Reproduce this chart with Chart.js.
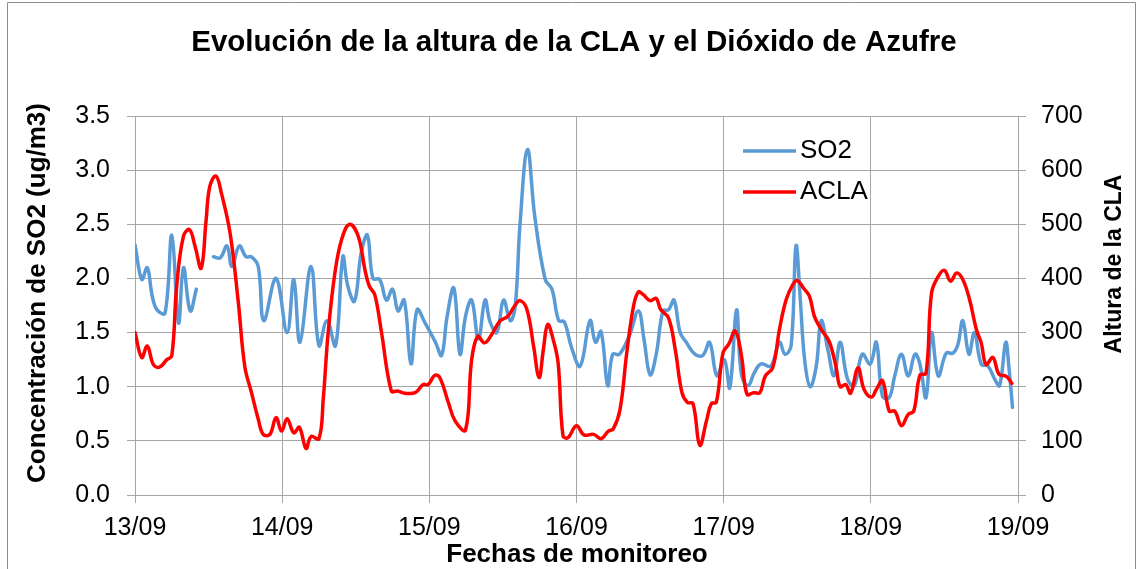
<!DOCTYPE html>
<html>
<head>
<meta charset="utf-8">
<script src="https://cdn.jsdelivr.net/npm/chart.js@4/dist/chart.umd.min.js"></script>
<style>
  html,body{margin:0;padding:0;background:#fff;}
  canvas{display:block;}
</style>
</head>
<body>
<canvas id="c" width="1137" height="569"></canvas>
<script>
// hours since 13/09 00:00
const dayLabels = ["13/09","14/09","15/09","16/09","17/09","18/09","19/09"];

const so2Hours = [0,1.1,2,2.8,3.6,4.9,6,7.1,7.9,9,10,11,12.8,13.9,15,15.8,17,18.1,19,20.1,21,23,24.8,25.9,26.9,28.7,30,31.3,32.7,33.9,34.7,35.8,36.9,37.9,38.8,39.9,41,42,42.9,43.9,45,46,47.3,49,50,50.9,52,53,53.9,54.9,56,57.1,57.9,59,60.1,61.2,62,62.8,64,65.2,66.9,68,69.1,70,71.2,72.6,74.2,75.1,76,77.1,77.9,79,80.6,82.1,83,84,85,86.1,87,87.9,88.9,89.9,91.3,92.6,93.7,94.9,96.1,97,98.1,98.9,100,101,102.1,103.7,105.1,106,107,107.8,108.5,109.2,110.1,111.1,111.9,113,114,115,116.2,117.3,118.6,119.9,120.9,121.9,123,123.9,125,126.1,127.2,128,129,129.9,131,132.3,133.4,134.2,135,136,136.9,138,139.1,140.2,141,142,142.5,143.1];
const so2Values = [2.31,1.99,2.10,1.84,1.71,1.68,2.40,1.59,2.10,1.70,1.90,null,2.20,2.19,2.30,2.11,2.30,2.20,2.20,2.11,1.61,2.00,1.50,1.99,1.41,2.11,1.38,1.61,1.38,2.20,1.93,1.79,2.24,2.40,2.00,1.99,1.80,1.90,1.70,1.80,1.21,1.71,1.59,1.41,1.29,1.65,1.91,1.30,1.65,1.80,1.44,1.80,1.60,1.50,1.80,1.61,1.74,2.51,3.19,2.57,1.99,1.90,1.61,1.60,1.36,1.19,1.61,1.41,1.51,1.01,1.30,1.30,1.47,1.70,1.44,1.11,1.30,1.70,1.71,1.80,1.50,1.41,1.30,1.29,1.41,1.10,1.25,0.99,1.71,1.11,1.01,1.13,1.21,1.19,1.41,1.30,1.38,2.30,1.80,1.25,1.00,1.19,1.61,1.34,1.10,1.41,1.07,1.01,1.30,1.21,1.41,0.91,0.90,1.10,1.30,1.10,1.30,1.21,0.90,1.50,1.10,1.31,1.31,1.39,1.61,1.30,1.50,1.21,1.19,1.07,1.01,1.41,1.19,0.81];

const claHours = [0,1.1,2,3,4,5.2,6,6.8,7.9,8.9,9.8,10.8,11.6,12.2,13.2,14.1,15.5,16.8,17.9,19,20.1,20.9,22,23,23.9,24.8,25.9,26.8,27.9,28.7,30,30.7,31.5,32.6,33.7,35,36.4,37.5,38.2,39.1,40.2,41.8,42.8,44,45.7,47,47.8,48.9,49.7,51.1,52.2,53.9,54.9,55.9,57,58.2,59.5,60.8,61.9,62.8,63.9,65,65.9,66.6,67.3,68.2,69,69.8,70.6,72,73.2,74.8,76,77.2,78,79.1,80.2,81.3,82.1,82.9,84,85,85.7,87,88.1,89.2,90.1,91,92.1,93.2,94,94.8,95.9,96.8,97.9,98.9,99.8,100.9,101.9,102.8,104,105.1,106.2,107.3,108,109.1,110,110.8,111.9,113.2,114.3,115,115.9,116.7,117.9,118.9,120.1,120.9,121.9,123,123.9,125,126.1,127,128,129,129.9,131,132,133,134,135,136.1,137.2,138,138.8,139.9,140.9,142.1,143];
const claValues = [300,254,275,241,236,250,257,386,478,490,459,419,508,570,589,557,484,361,238,189,140,112,112,143,118,141,115,125,86,108,104,177,300,410,472,500,478,416,386,370,300,192,192,188,189,204,204,221,217,171,137,120,250,293,281,297,321,330,349,359,343,275,217,269,315,287,244,109,106,128,111,112,104,118,122,158,263,349,375,370,359,363,343,327,269,189,171,169,92,137,169,171,263,278,303,257,186,189,189,220,235,306,361,389,396,381,367,330,306,284,238,200,204,188,235,195,181,195,211,155,155,128,149,155,221,225,373,404,415,395,410,398,361,306,281,241,254,223,219,206];

const FONT = '"Liberation Sans", Arial, sans-serif';
const GRID = '#a6a6a6';

const pts = (xs, ys) => xs.map((x, i) => ({x, y: ys[i]}));

const deco = {
  id: 'deco',
  beforeDraw(chart){
    const g = chart.ctx;
    g.save();
    g.strokeStyle = '#8c8c8c'; g.lineWidth = 1;
    g.beginPath();
    g.moveTo(7.5, 600); g.lineTo(7.5, 2.5); g.lineTo(1135.5, 2.5); g.lineTo(1135.5, 600);
    g.stroke();
    g.restore();
  },
  afterDraw(chart){
    const g = chart.ctx;
    g.save();
    g.fillStyle = '#000';
    g.textAlign = 'center'; g.textBaseline = 'middle';
    g.font = 'bold 29.5px ' + FONT;
    g.fillText('Evolución de la altura de la CLA y el Dióxido de Azufre', 574, 43);
    g.font = 'bold 26px ' + FONT;
    g.fillText('Fechas de monitoreo', 577, 555);
    g.save(); g.translate(38, 293); g.rotate(-Math.PI/2);
    g.fillText('Concentración de SO2 (ug/m3)', 0, 0); g.restore();
    g.font = 'bold 23px ' + FONT;
    g.save(); g.translate(1115, 264); g.rotate(-Math.PI/2);
    g.fillText('Altura de la CLA', 0, 0); g.restore();
    // legend
    g.font = '26px ' + FONT; g.textAlign = 'left';
    chart.data.datasets.forEach((ds, i) => {
      const y = 151 + i*41;
      g.strokeStyle = ds.borderColor; g.lineWidth = 3.5;
      g.beginPath(); g.moveTo(743, y); g.lineTo(796, y); g.stroke();
      g.fillText(ds.label, 800, y);
    });
    g.restore();
  }
};

new Chart(document.getElementById('c'), {
  type: 'line',
  data: {
    datasets: [
      {label: 'SO2', data: pts(so2Hours, so2Values), yAxisID: 'y', borderColor: '#5b9bd5', order: 1},
      {label: 'ACLA', data: pts(claHours, claValues), yAxisID: 'y2', borderColor: '#ff0000', order: 0}
    ]
  },
  options: {
    responsive: false, animation: false, devicePixelRatio: 1,
    spanGaps: false,
    layout: {padding: {top: 116, left: 0, right: 0, bottom: 0}},
    elements: {
      line: {borderWidth: 3.5, tension: 0.4, fill: false, borderCapStyle: 'round', borderJoinStyle: 'round'},
      point: {radius: 0, hoverRadius: 0}
    },
    plugins: {legend: {display: false}, title: {display: false}, tooltip: {enabled: false}},
    scales: {
      x: {
        type: 'linear', min: 0, max: 144,
        afterFit: s => { s.height = 74; },
        grid: {color: GRID, lineWidth: 1, tickLength: 8},
        border: {color: GRID},
        ticks: {stepSize: 24, padding: 10, maxRotation: 0, autoSkip: false, color: '#000',
          font: {family: FONT, size: 25}, callback: v => dayLabels[v / 24]}
      },
      y: {
        position: 'left', min: 0, max: 3.5,
        afterFit: s => { s.width = 135; },
        grid: {color: GRID, lineWidth: 1, tickLength: 8},
        border: {color: GRID},
        ticks: {stepSize: 0.5, padding: 17, color: '#000', font: {family: FONT, size: 25},
          callback: v => v.toFixed(1)}
      },
      y2: {
        position: 'right', min: 0, max: 700,
        afterFit: s => { s.width = 119; },
        grid: {drawOnChartArea: false, color: GRID, lineWidth: 1, tickLength: 8},
        border: {color: GRID},
        ticks: {stepSize: 100, padding: 15, color: '#000', font: {family: FONT, size: 25}}
      }
    }
  },
  plugins: [deco]
});
</script>
</body>
</html>
